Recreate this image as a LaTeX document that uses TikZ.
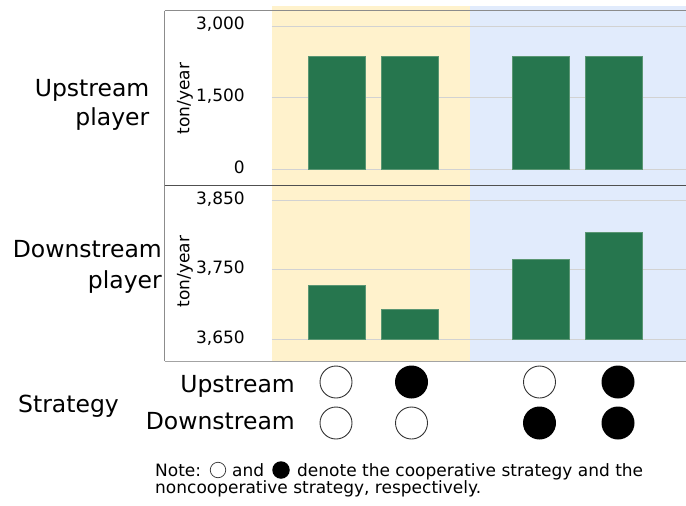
\documentclass[tikz,border=0pt]{standalone}
\usepackage{fontspec}
\setmainfont{DejaVu Sans}
\definecolor{bgyel}{RGB}{255,242,204}
\definecolor{bgblu}{RGB}{225,235,252}
\definecolor{bargreen}{RGB}{38,118,78}
\definecolor{baredge}{RGB}{90,150,115}
\definecolor{gridgray}{RGB}{210,210,210}
\definecolor{framegray}{RGB}{140,140,140}
\definecolor{middark}{RGB}{80,80,80}
\tikzset{
  bar/.style={fill=bargreen, draw=baredge, line width=0.6pt, inner sep=0pt, minimum width=57pt, anchor=south west},
  gridln/.style={draw=gridgray, line width=1pt},
  tick/.style={inner sep=0pt, anchor=base east, font=\fontsize{17}{20}\selectfont},
  unitlbl/.style={inner sep=0pt, rotate=90, font=\fontsize{17}{20}\selectfont},
  biglbl/.style={inner sep=0pt, font=\fontsize{23.5}{28}\selectfont},
  notelbl/.style={inner sep=0pt, anchor=base west, font=\fontsize{17}{20}\selectfont},
  coop/.style={circle, draw=black!80, line width=0.9pt, fill=white, minimum size=32pt, inner sep=0pt},
  noncoop/.style={circle, fill=black, minimum size=33pt, inner sep=0pt},
}
\begin{document}
\begin{tikzpicture}[x=1pt, y=-1pt]
\useasboundingbox (0,0) rectangle (686,506);
% backgrounds
\fill[bgyel] (271.7,5.5) rectangle (470,361);
\fill[bgblu] (470,5.5) rectangle (686,361);
% gridlines upper
\foreach \g in {26,97.7,169.3} \draw[gridln] (271.7,\g) -- (686,\g);
% gridlines lower
\foreach \g in {200,269.3,339.3} \draw[gridln] (271.7,\g) -- (686,\g);
% upper bars
\node[bar, minimum height=112.6pt] (u1) at (308.3,169.3) {};
\node[bar, minimum height=112.6pt] (u2) at (381.3,169.3) {};
\node[bar, minimum height=112.6pt] (u3) at (511.7,169.3) {};
\node[bar, minimum height=112.6pt] (u4) at (585.3,169.3) {};
% lower bars
\node[bar, minimum height=54pt] (d1) at (308.3,339.3) {};
\node[bar, minimum height=29.6pt] (d2) at (381.3,339.3) {};
\node[bar, minimum height=79.3pt] (d3) at (511.7,339.3) {};
\node[bar, minimum height=107pt] (d4) at (585.3,339.3) {};
% frame
\draw[framegray, line width=1pt] (164.5,10.5) -- (686,10.5);
\draw[framegray, line width=1pt] (164.5,10.5) -- (164.5,361);
\draw[framegray!80, line width=1pt] (164.5,361) -- (686,361);
\draw[middark, line width=1.6pt] (164.5,185.3) -- (686,185.3);
% tick labels
\node[tick] (t1) at (245,30) {3,000};
\node[tick] (t2) at (245,101.7) {1,500};
\node[tick] (t3) at (245,173.3) {0};
\node[tick] (t4) at (245,204) {3,850};
\node[tick] (t5) at (245,273.3) {3,750};
\node[tick] (t6) at (245,343.3) {3,650};
% unit labels
\node[unitlbl] (uy1) at (185,98.5) {ton/year};
\node[unitlbl] (uy2) at (185,271.5) {ton/year};
% player labels
\node[biglbl, anchor=base east] (up1) at (149.5,96) {Upstream};
\node[biglbl, anchor=base east] (up2) at (149.5,125) {player};
\node[biglbl, anchor=base east] (dn1) at (162,257) {Downstream};
\node[biglbl, anchor=base east] (dn2) at (162,288) {player};
% strategy labels
\node[biglbl, anchor=base west] (st) at (18,412) {Strategy};
\node[biglbl, anchor=base east] (su) at (295,392) {Upstream};
\node[biglbl, anchor=base east] (sd) at (295,429) {Downstream};
% circles
\node[coop] (c11) at (336,382) {};
\node[noncoop] (c12) at (411.5,382) {};
\node[coop] (c13) at (539.5,382) {};
\node[noncoop] (c14) at (618,382) {};
\node[coop] (c21) at (336,423) {};
\node[coop] (c22) at (411.5,423) {};
\node[noncoop] (c23) at (539.5,423) {};
\node[noncoop] (c24) at (618,423) {};
% note
\node[notelbl] (n1a) at (155,476) {Note:};
\node[coop, minimum size=15.5pt, line width=0.7pt] (nc1) at (218,470) {};
\node[notelbl] (n1b) at (232,476) {and};
\node[noncoop, minimum size=17.5pt] (nc2) at (281,470) {};
\node[notelbl] (n1c) at (297,476) {denote the cooperative strategy and the};
\node[notelbl] (n2) at (155,493.5) {noncooperative strategy, respectively.};
\end{tikzpicture}
\end{document}
